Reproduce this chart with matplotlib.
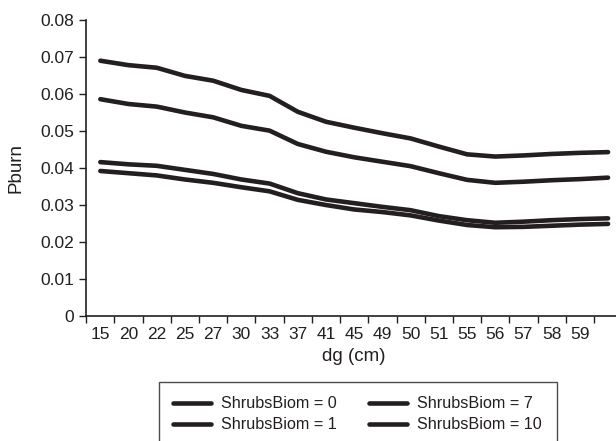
import matplotlib.pyplot as plt
import numpy as np

plt.rcParams['font.family'] = ['Liberation Sans', 'DejaVu Sans']

# dg (cm) categories; the last one has no visible label
dg_labels = ["15", "20", "22", "25", "27", "30", "33", "37", "41", "45", "49",
             "50", "51", "55", "56", "57", "58", "59", ""]

# Pburn for each ShrubsBiom level
pburn_0 = [0.0690, 0.0678, 0.0671, 0.0649, 0.0636, 0.0611, 0.0595, 0.0552, 0.0525, 0.0509,
           0.0494, 0.0480, 0.0458, 0.0437, 0.0431, 0.0434, 0.0438, 0.0441, 0.0443]
pburn_1 = [0.0586, 0.0573, 0.0566, 0.0550, 0.0537, 0.0514, 0.0501, 0.0465, 0.0444, 0.0429,
           0.0417, 0.0405, 0.0386, 0.0368, 0.0360, 0.0363, 0.0367, 0.0370, 0.0374]
pburn_7 = [0.0416, 0.0410, 0.0406, 0.0395, 0.0384, 0.0369, 0.0358, 0.0332, 0.0315, 0.0305,
           0.0295, 0.0286, 0.0270, 0.0259, 0.0252, 0.0255, 0.0259, 0.0262, 0.0264]
pburn_10 = [0.0392, 0.0386, 0.0380, 0.0369, 0.0360, 0.0348, 0.0337, 0.0314, 0.0300, 0.0288,
            0.0281, 0.0272, 0.0258, 0.0246, 0.0240, 0.0241, 0.0244, 0.0247, 0.0249]

series = [(pburn_0, "ShrubsBiom = 0"), (pburn_1, "ShrubsBiom = 1"),
          (pburn_7, "ShrubsBiom = 7"), (pburn_10, "ShrubsBiom = 10")]

ink = "#231f20"

fig = plt.figure(figsize=(6.16, 4.41), dpi=100)
ax = fig.add_axes([0.14, 0.2834, 0.87, 0.6712])

x = np.arange(len(dg_labels))
for values, label in series:
    ax.plot(x, values, color=ink, lw=3.3, solid_capstyle='round', label=label)

ax.set_xlim(-0.5, 18.5)
ax.set_ylim(0, 0.08)

# tick marks between categories, labels at category centres
ax.set_xticks(np.arange(-0.5, 18.5, 1.0))
ax.set_xticklabels([])
ax.set_xticks(x, minor=True)
ax.set_xticklabels(dg_labels, minor=True)
ax.tick_params(axis='x', which='major', direction='out', length=5, width=1, color=ink)
ax.tick_params(axis='x', which='minor', length=0, pad=8, labelsize=12.5, labelcolor=ink)

ax.set_yticks(np.arange(0, 0.081, 0.01))
ax.set_yticklabels(["0"] + ["%.2f" % v for v in np.arange(0.01, 0.081, 0.01)])
ax.tick_params(axis='y', direction='out', length=5, width=1, color=ink, labelsize=12.5, labelcolor=ink)

for side in ['top', 'right']:
    ax.spines[side].set_visible(False)
for side in ['left', 'bottom']:
    ax.spines[side].set_color(ink)
    ax.spines[side].set_linewidth(1.2)

ax.set_xlabel("dg (cm)", fontsize=13.5, color=ink)
ax.set_ylabel("Pburn", fontsize=13.5, color=ink)
ax.xaxis.set_label_coords(0.5, -0.108)
ax.yaxis.set_label_coords(-0.116, 0.5)

handles, labels = ax.get_legend_handles_labels()
leg = fig.legend(handles, labels,
                 ncol=2, loc='upper left', bbox_to_anchor=(0.258, 0.134),
                 borderaxespad=0, frameon=True, fancybox=False, edgecolor=ink,
                 fontsize=11.6, handlelength=2.36, handletextpad=0.62,
                 columnspacing=2.0, labelspacing=0.37, borderpad=0.9)
leg.get_frame().set_linewidth(1.0)
for t in leg.get_texts():
    t.set_color(ink)

fig.savefig("out.png", dpi=100)
